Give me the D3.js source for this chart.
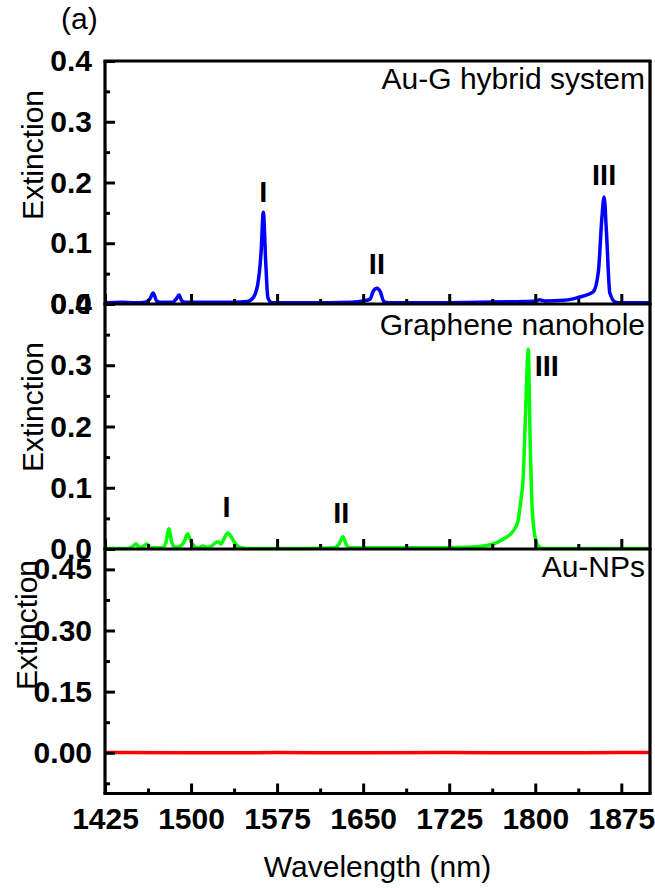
<!DOCTYPE html>
<html>
<head>
<meta charset="utf-8">
<script src="https://cdn.jsdelivr.net/npm/d3@7"></script>
<style>
  html, body { margin: 0; padding: 0; background: #fff; }
  svg { display: block; }
  text { font-family: Arial, "Liberation Sans", sans-serif; }
</style>
</head>
<body>
<svg id="chart" width="655" height="888"></svg>
<script>
// ---------------- DATA ----------------
const wavelengthTicks = [1425, 1500, 1575, 1650, 1725, 1800, 1875];
const wavelengthMinorTicks = [1462.5, 1537.5, 1612.5, 1687.5, 1762.5, 1837.5];

const panelTitles = ["Au-G hybrid system", "Graphene nanohole", "Au-NPs"];

// Au-G hybrid system (blue)
const auGWavelength = [1425, 1440, 1450, 1460, 1464, 1467, 1470, 1473, 1484, 1487, 1489.5, 1492, 1495, 1520, 1537, 1549, 1554, 1558, 1561, 1563, 1565, 1567, 1570.6, 1600, 1640, 1650, 1656, 1659, 1662, 1665, 1668, 1672, 1700, 1750, 1790, 1800, 1804, 1808, 1825, 1832, 1836, 1840, 1845, 1850.6, 1855, 1858, 1860, 1862, 1865, 1870, 1875, 1900];
const auGExtinction = [0.002, 0.003, 0.002, 0.003, 0.008, 0.018, 0.005, 0.003, 0.003, 0.008, 0.015, 0.005, 0.003, 0.003, 0.003, 0.004, 0.010, 0.031, 0.084, 0.151, 0.072, 0.010, 0.002, 0.002, 0.003, 0.005, 0.008, 0.022, 0.026, 0.020, 0.004, 0.002, 0.002, 0.003, 0.004, 0.005, 0.007, 0.005, 0.006, 0.008, 0.010, 0.012, 0.015, 0.020, 0.053, 0.140, 0.176, 0.120, 0.018, 0.003, 0.002, 0.002];

// Graphene nanohole (green)
const grapheneWavelength = [1425, 1445, 1449, 1452, 1455, 1458, 1461.5, 1465, 1475, 1478, 1480.8, 1483, 1486, 1490, 1494, 1497, 1500, 1504, 1507, 1510, 1514, 1518, 1521, 1523.5, 1526, 1529, 1532, 1535, 1538, 1542, 1548, 1600, 1625, 1629, 1632.5, 1635, 1638, 1700, 1740, 1761, 1772, 1781, 1785, 1787.5, 1789.5, 1791.5, 1793.9, 1795.5, 1797.3, 1800, 1803, 1806, 1850, 1900];
const grapheneExtinction = [0.001, 0.001, 0.004, 0.008, 0.003, 0.004, 0.008, 0.002, 0.002, 0.010, 0.033, 0.012, 0.003, 0.004, 0.012, 0.025, 0.012, 0.003, 0.002, 0.005, 0.003, 0.005, 0.010, 0.012, 0.008, 0.018, 0.026, 0.020, 0.010, 0.003, 0.001, 0.001, 0.002, 0.008, 0.020, 0.008, 0.002, 0.002, 0.003, 0.007, 0.016, 0.030, 0.046, 0.080, 0.117, 0.220, 0.326, 0.180, 0.067, 0.018, 0.004, 0.001, 0.001, 0.001];

// Au-NPs (red)
const auNPsWavelength = [1425, 1500, 1575, 1650, 1725, 1800, 1875, 1900];
const auNPsExtinction = [0.0005, -0.0003, 0.0004, 0.0002, 0.0004, 0.0000, 0.0005, 0.0008];

// y tick values per panel
const topYTicks = [0, 0.1, 0.2, 0.3, 0.4];
const topYMinor = [0.05, 0.15, 0.25, 0.35];
const midYTicks = [0, 0.1, 0.2, 0.3, 0.4];
const midYMinor = [0.05, 0.15, 0.25, 0.35];
const botYTicks = [0, 0.15, 0.30, 0.45];
const botYMinor = [-0.075, 0.075, 0.225, 0.375];

// Peak labels: [text, wavelength, extinction] anchor of text
const topPeakLabels = [["I", 1563, 0.168], ["II", 1662, 0.05], ["III", 1860, 0.196]];
const midPeakLabels = [["I", 1531, 0.052], ["II", 1631, 0.043], ["III", 1810, 0.282]];

// ---------------- LAYOUT ----------------
const svg = d3.select("#chart");
const L = 105, R = 650;
const x = d3.scaleLinear().domain([1425, 1900]).range([L, R]);

const panels = [
  { top: 61, bottom: 304, domain: [0, 0.4], ticks: topYTicks, minor: topYMinor, fmt: d3.format(".1f"),
    wl: auGWavelength, ex: auGExtinction, color: "#0000ff", title: panelTitles[0], titleY: 89,
    labelX: 43, labelY: 155, peaks: topPeakLabels, xLabels: false },
  { top: 304, bottom: 549, domain: [0, 0.4], ticks: midYTicks, minor: midYMinor, fmt: d3.format(".1f"),
    wl: grapheneWavelength, ex: grapheneExtinction, color: "#00ff00", title: panelTitles[1], titleY: 335,
    labelX: 43, labelY: 407, peaks: midPeakLabels, xLabels: false },
  { top: 549, bottom: 793.5, domain: [-0.1, 0.5], ticks: botYTicks, minor: botYMinor, fmt: d3.format(".2f"),
    wl: auNPsWavelength, ex: auNPsExtinction, color: "#ff0000", title: panelTitles[2], titleY: 577,
    labelX: 37, labelY: 625, peaks: [], xLabels: true }
];

const lineW = 3.2;
const tickFont = "30px";
const textFont = "30px";

panels.forEach((p, i) => {
  const y = d3.scaleLinear().domain(p.domain).range([p.bottom, p.top]);
  const g = svg.append("g");

  // data line
  const line = d3.line().x((d, k) => x(p.wl[k])).y((d, k) => y(p.ex[k])).curve(d3.curveMonotoneX);
  g.append("path")
    .datum(p.ex)
    .attr("d", line)
    .attr("fill", "none")
    .attr("stroke", p.color)
    .attr("stroke-width", 3.5)
    .attr("stroke-linejoin", "round");

  // x axis (bottom of panel), inward ticks
  const xAxis = d3.axisBottom(x).tickValues(wavelengthTicks).tickSize(-10).tickPadding(14)
    .tickFormat(p.xLabels ? d3.format("d") : () => "");
  const xa = g.append("g").attr("transform", `translate(0,${p.bottom})`).call(xAxis);
  const xMinor = d3.axisBottom(x).tickValues(wavelengthMinorTicks).tickSize(-5).tickFormat(() => "");
  const xm = g.append("g").attr("transform", `translate(0,${p.bottom})`).call(xMinor);

  // y axis
  const yAxis = d3.axisLeft(y).tickValues(p.ticks).tickSize(-10).tickPadding(13).tickFormat(p.fmt);
  const ya = g.append("g").attr("transform", `translate(${L},0)`).call(yAxis);
  const yMinor = d3.axisLeft(y).tickValues(p.minor).tickSize(-5).tickFormat(() => "");
  const ym = g.append("g").attr("transform", `translate(${L},0)`).call(yMinor);

  [xa, xm, ya, ym].forEach(a => {
    a.select(".domain").remove();
    a.selectAll(".tick line").attr("stroke", "#000").attr("stroke-width", 3);
    a.selectAll(".tick text")
      .attr("fill", "#000")
      .style("font-family", 'Arial, "Liberation Sans", sans-serif')
      .style("font-size", tickFont)
      .style("font-weight", "bold");
  });

  // frame lines
  g.append("line").attr("x1", L).attr("x2", L).attr("y1", p.top).attr("y2", p.bottom)
    .attr("stroke", "#000").attr("stroke-width", lineW);
  g.append("line").attr("x1", L - 1.6).attr("x2", R + 1.6).attr("y1", p.bottom).attr("y2", p.bottom)
    .attr("stroke", "#000").attr("stroke-width", lineW);
  g.append("line").attr("x1", R).attr("x2", R).attr("y1", p.top).attr("y2", p.bottom)
    .attr("stroke", "#000").attr("stroke-width", lineW);
  if (i === 0) {
    g.append("line").attr("x1", L - 1.6).attr("x2", R + 1.6).attr("y1", p.top).attr("y2", p.top)
      .attr("stroke", "#000").attr("stroke-width", lineW);
  }

  // panel title
  g.append("text").attr("x", R - 5).attr("y", p.titleY).attr("text-anchor", "end")
    .style("font-size", textFont).attr("fill", "#000").text(p.title);

  // y axis label
  g.append("text")
    .attr("transform", `translate(${p.labelX},${p.labelY}) rotate(-90)`)
    .attr("text-anchor", "middle")
    .style("font-size", textFont).attr("fill", "#000").text("Extinction");

  // peak labels
  p.peaks.forEach(([t, w, v]) => {
    g.append("text").attr("x", x(w)).attr("y", y(v)).attr("text-anchor", "middle")
      .style("font-size", "29px").style("font-weight", "bold").attr("fill", "#000").text(t);
  });
});

// x axis title
svg.append("text").attr("x", (L + R) / 2).attr("y", 877).attr("text-anchor", "middle")
  .style("font-size", textFont).attr("fill", "#000").text("Wavelength (nm)");

// panel tag
svg.append("text").attr("x", 61).attr("y", 29)
  .style("font-size", textFont).attr("fill", "#000").text("(a)");
</script>
</body>
</html>
